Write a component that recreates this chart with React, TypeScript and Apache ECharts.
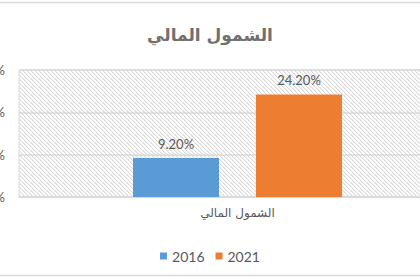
import React, { useEffect, useRef } from "react";
import * as echarts from "echarts";

const categories = ["الشمول المالي"];
const seriesNames = ["2016", "2021"];
const values2016 = [9.2];
const values2021 = [24.2];
const yTicks = { min: 0, max: 30, interval: 10 };
const colors = ["#5b9bd5", "#ed7d31"];

function makeHatch(): HTMLCanvasElement {
  const c = document.createElement("canvas");
  c.width = 4;
  c.height = 4;
  const ctx = c.getContext("2d")!;
  ctx.fillStyle = "#ffffff";
  ctx.fillRect(0, 0, 4, 4);
  ctx.fillStyle = "#dadada";
  for (let i = 0; i < 4; i++) ctx.fillRect(i, i, 1, 1);
  ctx.fillStyle = "#f1f1f1";
  for (let i = 0; i < 4; i++) ctx.fillRect((i + 1) % 4, i, 1, 1);
  return c;
}

export default function App() {
  const ref = useRef<HTMLDivElement>(null);
  useEffect(() => {
    const chart = echarts.init(ref.current!, undefined, { renderer: "svg" });
    const hatch = makeHatch();
    const labelStyle = {
      show: true,
      position: "top" as const,
      distance: 8,
      color: "#595959",
      fontSize: 13,
      fontFamily: "Lato",
      formatter: (p: any) => p.value.toFixed(2) + "%",
    };
    chart.setOption({
      animation: false,
      backgroundColor: "#ffffff",
      title: {
        text: "الشمول المالي",
        left: "center",
        top: 21,
        textStyle: {
          fontSize: 17,
          fontWeight: "bold",
          color: "#707070",
          fontFamily: "DejaVu Sans",
        },
      },
      graphic: [
        {
          type: "line",
          shape: { x1: 0, y1: 2.5, x2: 420, y2: 2.5 },
          style: { stroke: "#d9d9d9", lineWidth: 1.5 },
          silent: true,
        },
        {
          type: "line",
          shape: { x1: 0, y1: 275.5, x2: 420, y2: 275.5 },
          style: { stroke: "#d9d9d9", lineWidth: 1.5 },
          silent: true,
        },
      ],
      legend: {
        data: seriesNames,
        left: "center",
        top: 244,
        icon: "rect",
        itemWidth: 7,
        itemHeight: 7,
        itemGap: 11,
        textStyle: { fontSize: 14, color: "#595959", fontFamily: "Lato" },
      },
      grid: {
        left: 19,
        right: -36,
        top: 70,
        bottom: 83,
        containLabel: false,
        outerBoundsMode: "none",
        show: true,
        backgroundColor: { image: hatch, repeat: "repeat" },
        borderColor: "#d9d9d9",
        borderWidth: 1,
      },
      xAxis: {
        type: "category",
        data: categories,
        axisLine: { show: true, lineStyle: { color: "#d9d9d9", width: 1 } },
        axisTick: { show: false },
        axisLabel: {
          color: "#595959",
          fontSize: 12,
          fontFamily: "DejaVu Sans",
          margin: 10,
        },
      },
      yAxis: {
        type: "value",
        min: yTicks.min,
        max: yTicks.max,
        interval: yTicks.interval,
        axisLine: { show: false },
        axisTick: { show: false },
        splitLine: { lineStyle: { color: "#d9d9d9", width: 1.5 } },
        axisLabel: {
          formatter: "{value}%",
          color: "#595959",
          fontSize: 13,
          fontFamily: "Lato",
          margin: 14,
        },
      },
      series: [
        {
          name: seriesNames[0],
          type: "bar",
          data: values2016,
          barWidth: 86,
          barGap: "43%",
          itemStyle: { color: colors[0] },
          label: labelStyle,
        },
        {
          name: seriesNames[1],
          type: "bar",
          data: values2021,
          barWidth: 86,
          itemStyle: { color: colors[1] },
          label: labelStyle,
        },
      ],
    });
    return () => chart.dispose();
  }, []);
  return (
    <div
      ref={ref}
      style={{ position: "fixed", left: 0, top: 0, width: 420, height: 280 }}
    />
  );
}
